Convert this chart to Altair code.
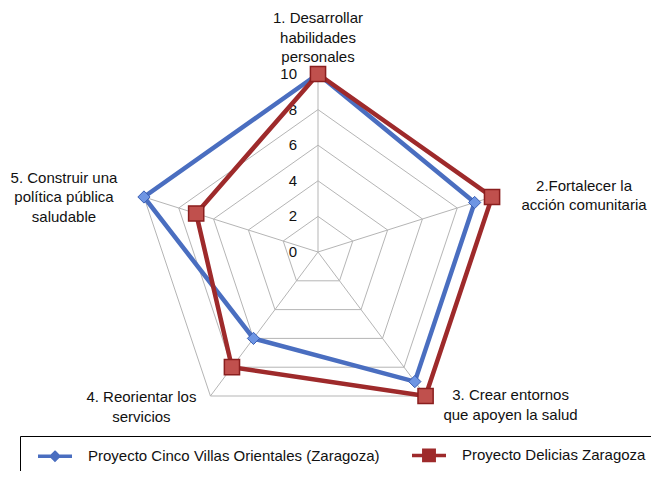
import altair as alt
import pandas as pd

# ---- data ----
categories = [
    "1. Desarrollar\nhabilidades\npersonales",
    "2.Fortalecer la\nacción comunitaria",
    "3. Crear entornos\nque apoyen la salud",
    "4. Reorientar los\nservicios",
    "5. Construir una\npolítica pública\nsaludable",
]
series_names = ["Proyecto Cinco Villas Orientales (Zaragoza)", "Proyecto Delicias Zaragoza"]
cinco_villas = [10, 9, 9, 6, 10]
delicias = [10, 10, 10, 8, 7]
grid_levels = [2, 4, 6, 8, 10]
tick_values = [0, 2, 4, 6, 8, 10]

# ---- tables built from the lists ----
n = len(categories)
series_df = pd.DataFrame(
    [{"serie": series_names[0], "idx": i, "value": v} for i, v in enumerate(cinco_villas)]
    + [{"serie": series_names[1], "idx": i, "value": v} for i, v in enumerate(delicias)]
)
grid_df = pd.DataFrame([{"level": L, "idx": i} for L in grid_levels for i in range(n)])
spoke_df = pd.DataFrame([{"idx": i, "value": max(grid_levels)} for i in range(n)])
cat_df = pd.DataFrame([{"idx": i, "label": c, "value": max(grid_levels)} for i, c in enumerate(categories)])
tick_df = pd.DataFrame({"tick": tick_values})

W, H = 643, 463
xdom = [-310 / 18.3, (W - 310) / 18.3]
ydom = [-(H - 244) / 17.8, 244 / 17.8]
FONT = "Liberation Sans"

def X(field="x"):
    return alt.X(f"{field}:Q", scale=alt.Scale(domain=xdom, nice=False, zero=False), axis=None)

def Y(field="y"):
    return alt.Y(f"{field}:Q", scale=alt.Scale(domain=ydom, nice=False, zero=False), axis=None)

ang = f"2*PI*datum.idx/{n}"

def polar(chart, rfield):
    return chart.transform_calculate(
        x=f"datum.{rfield}*sin({ang})", y=f"datum.{rfield}*cos({ang})"
    )

grid = polar(alt.Chart(grid_df), "level").mark_line(
    interpolate="linear-closed", color="#b5b5b5", strokeWidth=1
).encode(x=X(), y=Y(), detail="level:N", order="idx:Q")

spokes = polar(alt.Chart(spoke_df), "value").transform_calculate(x0="0", y0="0").mark_rule(
    color="#b5b5b5", strokeWidth=1
).encode(x=X("x0"), y=Y("y0"), x2="x:Q", y2="y:Q")

ticks = alt.Chart(tick_df).transform_calculate(x="0", y="datum.tick").mark_text(
    align="right", baseline="middle", dx=-21, font=FONT, fontSize=15, color="#111"
).encode(x=X(), y=Y(), text="tick:Q")

blue_line, red_line = "#4A6EC0", "#9E2A2B"
blue_fill, red_fill = "#6E95E3", "#C0504D"

# legend symbols: line through a (stroke-filled) marker
sym_blue = ("M-1.7,0L1.7,0M0,-0.36L0.36,0L0,0.36L-0.36,0Z"
            "M0,-0.18L0.18,0L0,0.18L-0.18,0ZM0,-0.05L0.05,0L0,0.05L-0.05,0Z")
sym_red = ("M-1.7,0L1.7,0M-0.52,-0.52L0.52,-0.52L0.52,0.52L-0.52,0.52Z"
           "M-0.3,-0.3L0.3,-0.3L0.3,0.3L-0.3,0.3ZM-0.1,-0.1L0.1,-0.1L0.1,0.1L-0.1,0.1Z")

legend = alt.Legend(
    orient="none", legendX=12, legendY=428, direction="horizontal", title=None,
    labelFont=FONT, labelFontSize=15, labelColor="#111", labelLimit=0,
    strokeColor="#000", padding=7, symbolOffset=16, labelOffset=21, columnPadding=21,
    symbolSize=400, symbolStrokeWidth=3.5,
    symbolType=alt.ExprRef(expr=f"datum.value === '{series_names[0]}' ? '{sym_blue}' : '{sym_red}'"),
)

lines = polar(alt.Chart(series_df), "value").mark_line(
    interpolate="linear-closed", strokeWidth=4.5
).encode(
    x=X(), y=Y(), order="idx:Q",
    color=alt.Color("serie:N", scale=alt.Scale(domain=series_names, range=[blue_line, red_line]),
                    legend=legend),
)

blue_pts = polar(alt.Chart(series_df), "value").transform_filter(
    alt.datum.serie == series_names[0]
).mark_point(shape="diamond", filled=True, size=150, fill=blue_fill, stroke="#3A5FB5",
             strokeWidth=1, opacity=1).encode(x=X(), y=Y())

red_pts = polar(alt.Chart(series_df), "value").transform_filter(
    alt.datum.serie == series_names[1]
).mark_point(shape="square", filled=True, size=230, fill=red_fill, stroke="#8A1E1E",
             strokeWidth=1.5, opacity=1).encode(x=X(), y=Y())

# (dx, dy) place the first line of each category label relative to its axis end
offsets = [(0, -56), (92, -11), (85, -1), (-69, 1), (-80, -19)]
label_layers = []
for i, (dx, dy) in enumerate(offsets):
    label_layers.append(
        polar(alt.Chart(cat_df), "value").transform_filter(alt.datum.idx == i).mark_text(
            align="center", baseline="middle", dx=dx, dy=dy, lineBreak="\n",
            font=FONT, fontSize=15, lineHeight=19.5, color="#111"
        ).encode(x=X(), y=Y(), text="label:N")
    )

chart = alt.layer(grid, spokes, ticks, lines, blue_pts, red_pts, *label_layers).properties(
    width=W, height=H, padding=0, autosize=alt.AutoSizeParams(type="none"), background="white"
).configure_view(stroke=None)

chart.save("out.html", embed_options={"renderer": "svg", "actions": False})
